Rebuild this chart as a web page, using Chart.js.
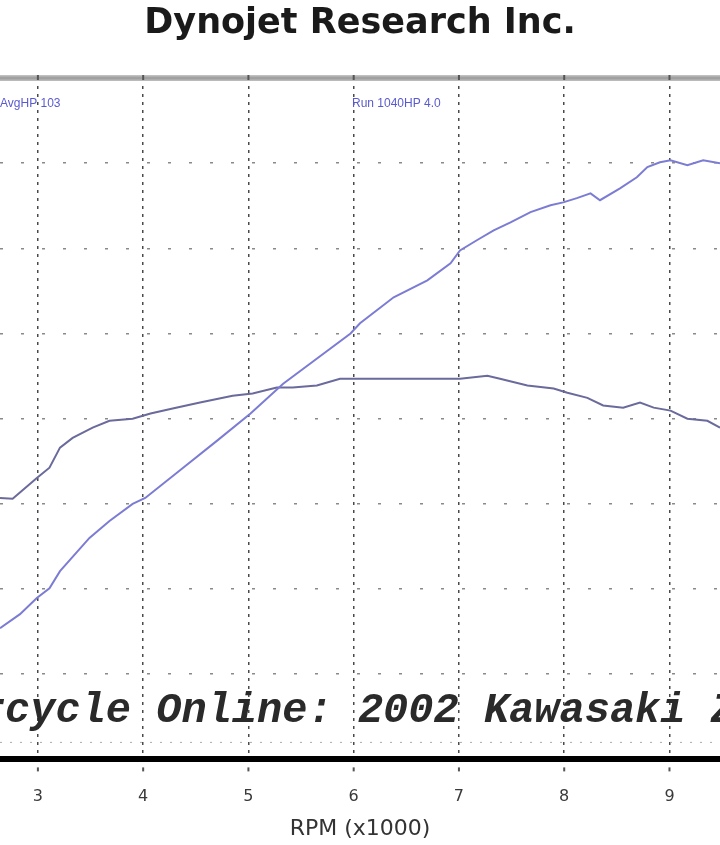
<!DOCTYPE html>
<html>
<head>
<meta charset="utf-8">
<script src="https://cdn.jsdelivr.net/npm/chart.js@4"></script>
<style>
  html, body { margin: 0; padding: 0; background: #ffffff; }
  #wrap { width: 720px; height: 845px; }
</style>
</head>
<body>
<div id="wrap"><canvas id="c" width="720" height="845"></canvas></div>
<script>
// ---- data ----
const chartTitle = 'Dynojet Research Inc.';
const xAxisTitle = 'RPM (x1000)';
const watermark = 'Motorcycle Online: 2002 Kawasaki ZX-9R';
const legendLeft = 'AvgHP 103';
const legendRight = 'Run 1040HP 4.0';

const xTickLabels = [3, 4, 5, 6, 7, 8, 9];
const xRange = [2.64, 9.48];
const yRange = [0, 160];
const yStep = 20;

const hpRpm = [2.64, 2.83, 2.99, 3.11, 3.21, 3.49, 3.68, 3.90, 4.02, 4.38, 4.70, 5.02, 5.33, 5.97, 6.06, 6.38, 6.70, 6.92, 7.01, 7.17, 7.33, 7.49, 7.68, 7.87, 7.99, 8.12, 8.25, 8.34, 8.53, 8.69, 8.79, 8.91, 9.01, 9.17, 9.32, 9.48];
const hpValues = [30.8, 34.1, 37.9, 40.2, 44.2, 52.0, 56.0, 60.0, 61.4, 68.5, 74.8, 81.2, 88.2, 100.0, 102.4, 108.5, 112.5, 116.5, 119.5, 121.9, 124.2, 126.1, 128.5, 130.1, 130.8, 131.8, 132.9, 131.3, 134.1, 136.7, 139.1, 140.2, 140.7, 139.5, 140.7, 140.0];

const tqRpm = [2.64, 2.76, 2.99, 3.11, 3.21, 3.33, 3.52, 3.68, 3.90, 4.07, 4.28, 4.54, 4.85, 5.04, 5.27, 5.42, 5.65, 5.87, 6.30, 6.70, 7.01, 7.27, 7.39, 7.65, 7.90, 8.03, 8.22, 8.37, 8.56, 8.72, 8.85, 9.01, 9.17, 9.36, 9.48];
const tqValues = [61.4, 61.2, 66.1, 68.5, 73.2, 75.5, 77.9, 79.5, 80.0, 81.2, 82.4, 83.8, 85.4, 85.9, 87.3, 87.3, 87.8, 89.4, 89.4, 89.4, 89.4, 90.1, 89.4, 87.8, 87.1, 86.1, 84.9, 83.1, 82.6, 83.8, 82.6, 81.9, 80.0, 79.5, 77.9];

const toPoints = (xs, ys) => xs.map((x, i) => ({ x: x, y: ys[i] }));

// decorations drawn around the chart area
const decorations = {
  id: 'decorations',
  beforeDatasetsDraw(chart) {
    const { ctx, chartArea } = chart;
    ctx.save();
    // faint dotted line near bottom
    ctx.strokeStyle = '#aaaaaa';
    ctx.lineWidth = 1;
    ctx.setLineDash([2, 8]);
    ctx.beginPath();
    ctx.moveTo(chartArea.left, chartArea.bottom - 17);
    ctx.lineTo(chartArea.right, chartArea.bottom - 17);
    ctx.stroke();
    ctx.setLineDash([]);
    // watermark
    ctx.fillStyle = '#2a2a2a';
    ctx.font = 'italic bold 42px "Liberation Mono", monospace';
    ctx.textBaseline = 'alphabetic';
    ctx.textAlign = 'left';
    ctx.fillText(watermark, -121, 722);
    // legends
    ctx.font = '12px "Liberation Sans", Arial';
    ctx.fillStyle = '#5a5ad0';
    ctx.textBaseline = 'middle';
    ctx.fillText(legendLeft, 0, 104);
    ctx.fillText(legendRight, 352, 104);
    ctx.restore();
  },
  afterDraw(chart) {
    const { ctx, chartArea } = chart;
    const xs = chart.scales.x;
    ctx.save();
    const g = ctx.createLinearGradient(0, chartArea.top - 4, 0, chartArea.top + 4);
    g.addColorStop(0, '#d8d8d8');
    g.addColorStop(0.5, '#999999');
    g.addColorStop(1, '#cfcfcf');
    ctx.fillStyle = g;
    ctx.fillRect(0, chartArea.top - 3, 720, 6);
    ctx.fillStyle = '#555555';
    xTickLabels.forEach(v => {
      const px = xs.getPixelForValue(v);
      ctx.fillRect(px - 1, chartArea.top - 3, 2, 5);
      ctx.fillRect(px - 1, chartArea.bottom + 8, 2, 4);
    });
    ctx.restore();
  }
};

new Chart(document.getElementById('c'), {
  type: 'line',
  data: {
    datasets: [
      {
        label: 'HP',
        data: toPoints(hpRpm, hpValues),
        borderColor: '#7c7cd4',
        borderWidth: 2,
        pointRadius: 0,
        tension: 0,
        fill: false
      },
      {
        label: 'Torque',
        data: toPoints(tqRpm, tqValues),
        borderColor: '#6a6a9c',
        borderWidth: 2,
        pointRadius: 0,
        tension: 0,
        fill: false
      }
    ]
  },
  options: {
    responsive: false,
    animation: false,
    devicePixelRatio: 1,
    layout: { padding: { left: 0, right: 0, top: 0, bottom: -1 } },
    plugins: {
      legend: { display: false },
      tooltip: { enabled: false },
      title: {
        display: true,
        text: chartTitle,
        color: '#1a1a1a',
        font: { family: '"DejaVu Sans", sans-serif', size: 35, weight: 'bold' },
        padding: { top: 3, bottom: 33 }
      }
    },
    scales: {
      x: {
        type: 'linear',
        min: xRange[0],
        max: xRange[1],
        afterBuildTicks: (scale) => { scale.ticks = xTickLabels.map(v => ({ value: v })); },
        ticks: {
          color: '#3a3a3a',
          font: { family: '"DejaVu Sans", sans-serif', size: 16 },
          padding: 28,
          callback: (v) => String(v)
        },
        grid: { color: '#4a4a4a', lineWidth: 1.5, drawTicks: false },
        border: { display: true, color: '#000000', width: 6, dash: [3, 5] },
        title: {
          display: true,
          text: xAxisTitle,
          color: '#333333',
          font: { family: '"DejaVu Sans", sans-serif', size: 22 },
          padding: { top: -19, bottom: 4 }
        }
      },
      y: {
        min: yRange[0],
        max: yRange[1],
        ticks: { display: false, stepSize: yStep },
        grid: { color: '#8a8a8a', lineWidth: 1.5, drawTicks: false },
        border: { display: false, dash: [3, 18] }
      }
    }
  },
  plugins: [decorations]
});
</script>
</body>
</html>
